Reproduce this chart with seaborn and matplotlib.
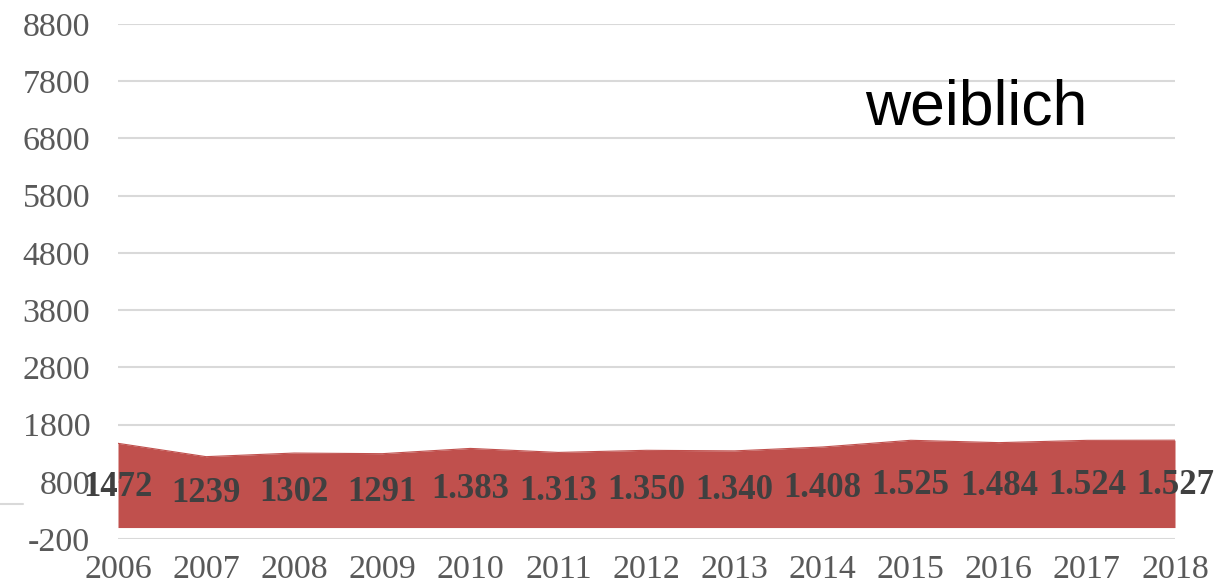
import matplotlib
matplotlib.use("Agg")
import matplotlib.pyplot as plt
import seaborn as sns
import pandas as pd
from matplotlib.lines import Line2D

years = [2006, 2007, 2008, 2009, 2010, 2011, 2012, 2013, 2014, 2015, 2016, 2017, 2018]
values = [1472, 1239, 1302, 1291, 1383, 1313, 1350, 1340, 1408, 1525, 1484, 1524, 1527]
labels = ["1472", "1239", "1302", "1291", "1.383", "1.313", "1.350", "1.340",
          "1.408", "1.525", "1.484", "1.524", "1.527"]
yticks = [-200, 800, 1800, 2800, 3800, 4800, 5800, 6800, 7800, 8800]
title = "weiblich"

df = pd.DataFrame({"year": years, "value": values})

sns.set_theme(style="white")
plt.rcParams["axes.unicode_minus"] = False
W, H = 1221, 581
fig = plt.figure(figsize=(W / 100, H / 100), dpi=100)
ax = fig.add_axes([118 / W, 1 - 539 / H, (1175 - 118) / W, (539 - 24) / H])

area_color = "#C0504D"
sns.lineplot(data=df, x="year", y="value", ax=ax, color=area_color, linewidth=0.8)
ax.fill_between(df["year"], 0, df["value"], color=area_color, linewidth=0, zorder=2)

ax.set_xlim(2006, 2018)
ax.set_ylim(-200, 8800)
ax.set_yticks(yticks)
ax.set_yticklabels([str(t) for t in yticks])
ax.set_xticks(years)
ax.set_xticklabels([str(y) for y in years])
ax.grid(axis="y", color="#D9D9D9", linewidth=1.5, zorder=0)
ax.grid(axis="x", visible=False)
ax.set_axisbelow(True)
for s in ax.spines.values():
    s.set_visible(False)
ax.set_xlabel("")
ax.set_ylabel("")
ax.tick_params(axis="y", length=0, pad=20, labelsize=24.5, labelcolor="#595959")
ax.tick_params(axis="x", length=0, pad=11, labelsize=24.5, labelcolor="#595959")
for lab in ax.get_xticklabels() + ax.get_yticklabels():
    lab.set_fontfamily("Liberation Serif")

for x, v, t in zip(years, values, labels):
    ax.text(x, v / 2 - 30, t, ha="center", va="center", fontsize=25,
            fontweight="bold", color="#404040", family="Liberation Serif",
            clip_on=False, zorder=5)

fig.text(865 / W, 1 - 125 / H, title, ha="left", va="baseline",
         fontsize=45, family="Liberation Sans", color="black")

fig.add_artist(Line2D([0, 23 / W], [1 - 504 / H, 1 - 504 / H],
                      color="#D9D9D9", linewidth=1.5, transform=fig.transFigure))

fig.savefig("out.png", dpi=100)
